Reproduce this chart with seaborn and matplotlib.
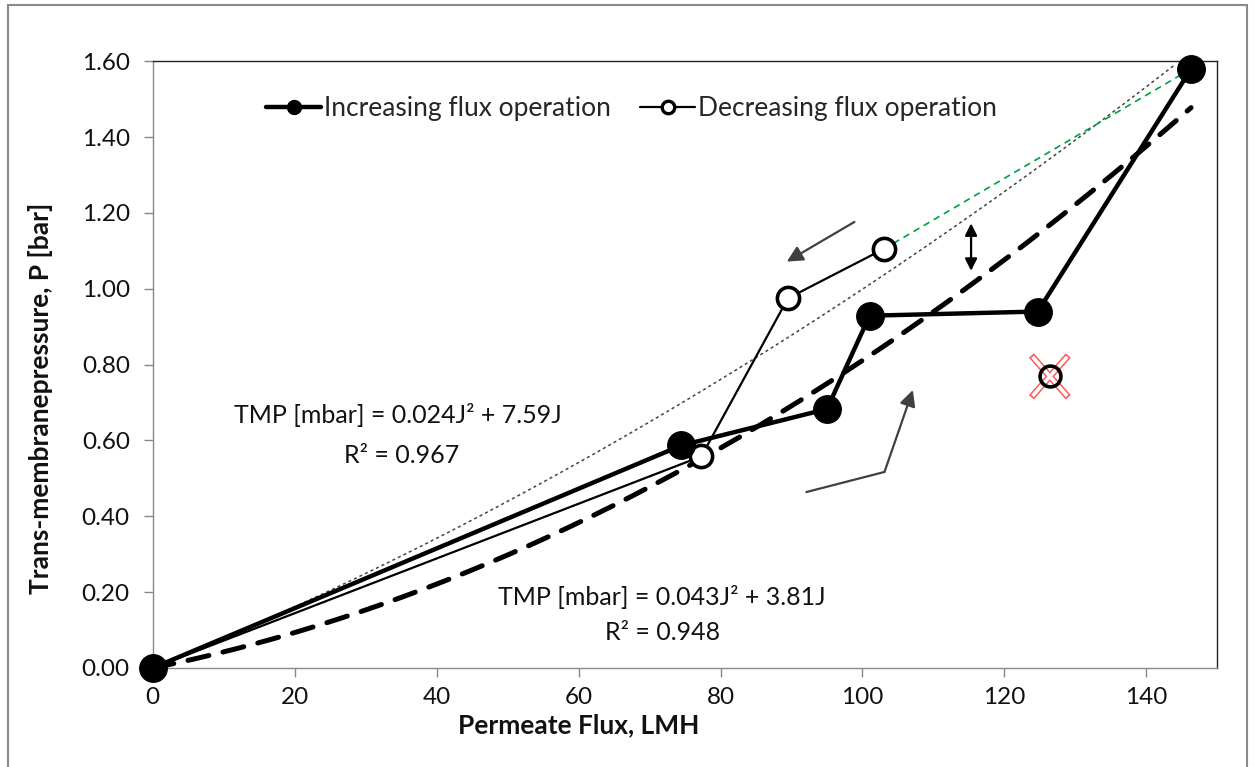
import numpy as np
import pandas as pd
import matplotlib
matplotlib.use("Agg")
import matplotlib.pyplot as plt
from matplotlib.lines import Line2D
from matplotlib.patches import Rectangle
import seaborn as sns

# Measured operating points (flux in LMH, TMP in bar)
inc_flux = [0.0, 74.5, 95.0, 101.0, 124.7, 146.3]
inc_tmp = [0.000, 0.587, 0.683, 0.929, 0.940, 1.580]

dec_flux = [103.1, 89.5, 77.3, 0.0]
dec_tmp = [1.106, 0.975, 0.558, 0.000]

# Rejected point on the decreasing branch
outlier_flux = [126.4]
outlier_tmp = [0.769]

# Polynomial trend coefficients: TMP [mbar] = a*J^2 + b*J, plus R^2
inc_fit = (0.043, 3.81, 0.948)
dec_fit = (0.024, 7.59, 0.967)

x_ticks = [0, 20, 40, 60, 80, 100, 120, 140]
y_ticks = [0.0, 0.2, 0.4, 0.6, 0.8, 1.0, 1.2, 1.4, 1.6]

sns.set_theme(style="white")
plt.rcParams["font.family"] = ["Lato", "DejaVu Sans"]

fig = plt.figure(figsize=(12.55, 7.67), dpi=100)
ax = fig.add_axes([0.1217, 0.1291, 0.8483, 0.7910])

# Trend curves evaluated from the fitted equations
j_inc = np.linspace(0, 146.3, 200)
j_dec = np.linspace(0, 144.0, 200)
fit_inc = pd.DataFrame({"J": j_inc, "P": (inc_fit[0] * j_inc**2 + inc_fit[1] * j_inc) / 1000})
fit_dec = pd.DataFrame({"J": j_dec, "P": (dec_fit[0] * j_dec**2 + dec_fit[1] * j_dec) / 1000})

sns.lineplot(data=fit_dec, x="J", y="P", ax=ax, color="#444444", lw=1.1,
             linestyle=(0, (2, 2)), zorder=2)
sns.lineplot(data=fit_inc, x="J", y="P", ax=ax, color="black", lw=3.6,
             linestyle=(0, (4.3, 2.9)), dash_capstyle="round", zorder=3)

# Link from the top point to the last kept point of the decreasing branch
ax.plot([inc_flux[-1], dec_flux[0]], [inc_tmp[-1], dec_tmp[0]],
        color="#00a040", lw=1.2, linestyle=(0, (4, 3)), zorder=2)

inc_df = pd.DataFrame({"J": inc_flux, "P": inc_tmp})
dec_df = pd.DataFrame({"J": dec_flux, "P": dec_tmp})

sns.lineplot(data=dec_df, x="J", y="P", ax=ax, sort=False, color="black", lw=1.6,
             marker="o", markersize=16, markerfacecolor="white",
             markeredgecolor="black", markeredgewidth=2.6, zorder=4, clip_on=False)
sns.lineplot(data=inc_df, x="J", y="P", ax=ax, sort=False, color="black", lw=3.2,
             marker="o", markersize=20, markerfacecolor="black",
             markeredgecolor="black", zorder=5, clip_on=False)

# Red cross over the rejected point, ring drawn on top
cx, cy = outlier_flux[0], outlier_tmp[0]
dx, dy = 2.6, 0.055
for sx in (-1, 1):
    ax.plot([cx - dx, cx + dx], [cy - sx * dy, cy + sx * dy], color="#ff5a5a",
            lw=4.8, solid_capstyle="butt", zorder=6)
    ax.plot([cx - dx * 0.94, cx + dx * 0.94], [cy - sx * dy * 0.94, cy + sx * dy * 0.94],
            color="white", lw=2.6, solid_capstyle="butt", zorder=7)
ax.plot(outlier_flux, outlier_tmp, linestyle="none", marker="o", markersize=15,
        markerfacecolor="none", markeredgecolor="black", markeredgewidth=2.6, zorder=8)

# Direction arrows
ax.annotate("", xy=(89.0, 1.068), xytext=(99.2, 1.180),
            arrowprops=dict(arrowstyle="-|>", color="#404040", lw=1.6, mutation_scale=24))
ax.annotate("", xy=(115.3, 1.040), xytext=(115.3, 1.180),
            arrowprops=dict(arrowstyle="<|-|>", color="black", lw=1.6, mutation_scale=18))
ax.plot([92.1, 103.1], [0.464, 0.517], color="#404040", lw=1.6)
ax.annotate("", xy=(107.1, 0.733), xytext=(103.1, 0.517),
            arrowprops=dict(arrowstyle="-|>", color="#404040", lw=1.6, mutation_scale=24,
                            shrinkA=0, shrinkB=0))

# Fit equations
txt_kw = dict(fontsize=18, ha="center", va="center", color="#111111")
ax.text(34.5, 0.668, f"TMP [mbar] = {dec_fit[0]:.3f}J² + {dec_fit[1]:.2f}J", **txt_kw)
ax.text(35.0, 0.560, f"R² = {dec_fit[2]:.3f}", **txt_kw)
ax.text(71.7, 0.188, f"TMP [mbar] = {inc_fit[0]:.3f}J² + {inc_fit[1]:.2f}J", **txt_kw)
ax.text(71.9, 0.094, f"R² = {inc_fit[2]:.3f}", **txt_kw)

ax.set_xlim(0, 150)
ax.set_ylim(0, 1.6)
ax.set_xticks(x_ticks)
ax.set_yticks(y_ticks)
ax.set_yticklabels([f"{v:.2f}" for v in y_ticks])
ax.tick_params(axis="both", which="major", direction="out", length=6.5, width=1.0,
               color="#888888", labelsize=17.5, labelcolor="#111111")
ax.tick_params(axis="y", pad=10)
ax.tick_params(axis="x", pad=7)
ax.tick_params(left=True, bottom=True)

for side in ("left", "bottom"):
    ax.spines[side].set_color("#888888")
    ax.spines[side].set_linewidth(1.0)
for side in ("top", "right"):
    ax.spines[side].set_color("#222222")
    ax.spines[side].set_linewidth(1.0)

ax.set_xlabel("Permeate Flux, LMH", fontsize=19, fontweight="bold", color="#111111")
ax.set_ylabel("Trans-membranepressure, P [bar]", fontsize=19, fontweight="bold",
              color="#111111")
ax.xaxis.set_label_coords(0.400, -0.074)
ax.yaxis.set_label_coords(-0.094, 0.445)

handles = [
    Line2D([], [], color="black", lw=3.2, marker="o", markersize=10,
           markerfacecolor="black", markeredgecolor="black"),
    Line2D([], [], color="black", lw=1.6, marker="o", markersize=9,
           markerfacecolor="white", markeredgecolor="black", markeredgewidth=2.4),
]
ax.legend(handles, ["Increasing flux operation", "Decreasing flux operation"],
          loc="upper left", bbox_to_anchor=(0.084, 0.982), ncol=2, frameon=False,
          fontsize=19, handlelength=2.1, handletextpad=0.1, columnspacing=1.1)

fig.patches.append(Rectangle((0.006, -0.02), 0.988, 1.014, transform=fig.transFigure,
                             fill=False, edgecolor="#8a8a8a", lw=1.5))

fig.savefig("out.png", dpi=100)
